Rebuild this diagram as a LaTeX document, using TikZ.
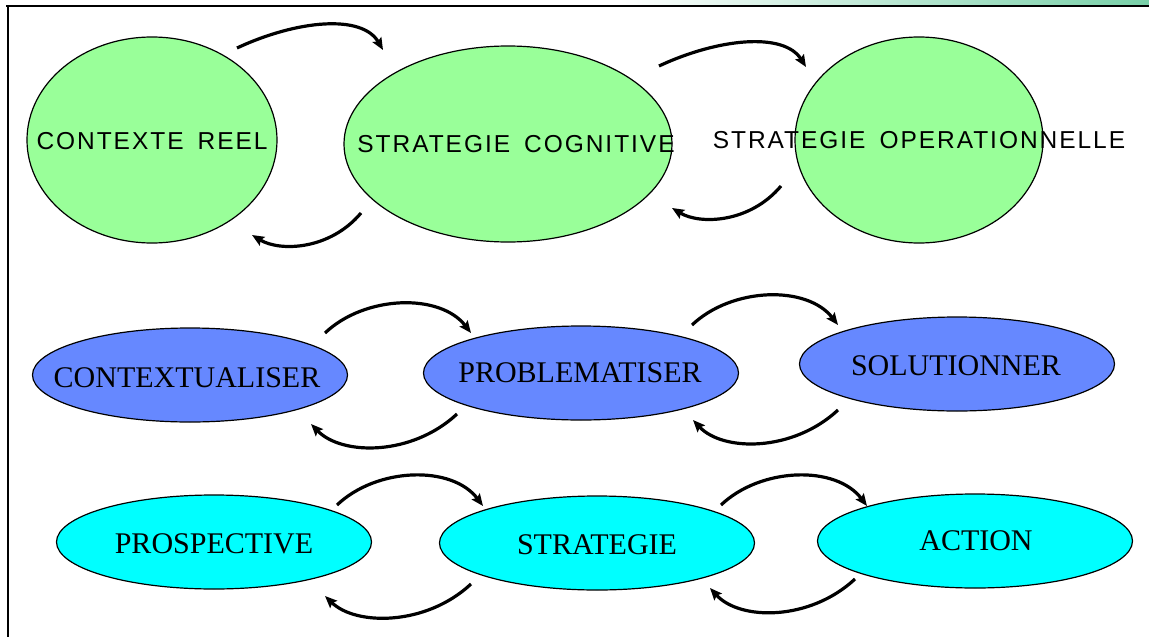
\documentclass[tikz,border=0pt]{standalone}
\usepackage{fontspec}
\setmainfont{Liberation Serif}
\newfontfamily\sansls[LetterSpace=8]{Liberation Sans}
\usetikzlibrary{shapes.geometric,arrows.meta,calc}
\definecolor{lgreen}{RGB}{153,255,153}
\definecolor{mblue}{RGB}{102,136,255}
\definecolor{mcyan}{RGB}{0,255,255}
\definecolor{barend}{RGB}{120,208,168}
\newcommand{\wgap}{\hspace{14pt}}
\tikzset{
  bubble/.style={ellipse, draw=black, line width=1.2pt, inner sep=0pt},
  gbub/.style={bubble, fill=lgreen},
  bbub/.style={bubble, fill=mblue, minimum width=315pt, minimum height=94pt},
  cbub/.style={bubble, fill=mcyan, minimum width=315pt, minimum height=94pt},
  stxt/.style={font=\sansls\fontsize{24.5}{28}\selectfont, inner sep=0pt},
  rtxt/.style={font=\fontsize{30}{34}\selectfont, inner sep=0pt},
  arr/.style={line width=3.2pt, -{Stealth[length=12pt,width=10pt,inset=2pt]}},
}
\begin{document}
\begin{tikzpicture}[x=1pt,y=-1pt]
\useasboundingbox (0,0) rectangle (1149,637);
% frame
\shade[left color=white, right color=barend] (620,0) rectangle (1149,5);
\draw[line width=2pt] (6,6) -- (1149,6);
\draw[line width=2pt] (7.5,5) -- (7.5,637);

% row 1
\node[gbub, minimum width=250pt, minimum height=206pt] (ctx) at (152,140) {};
\node[gbub, minimum width=328pt, minimum height=196pt] (scog) at (508,144) {};
\node[gbub, minimum width=248pt, minimum height=206pt] (sop) at (919,140) {};
\node[stxt] (ctxT) at (152,141) {CONTEXTE\wgap REEL};
\node[stxt] (scogT) at (516,144) {STRATEGIE\wgap COGNITIVE};
\node[stxt] (sopT) at (919,140) {STRATEGIE\wgap OPERATIONNELLE};

% row 2
\node[bbub] (cxl) at (190,375) {};
\node[bbub] (prb) at (581,373) {};
\node[bbub] (sol) at (957,364) {};
\node[rtxt] (cxlT) at (187,378) {CONTEXTUALISER};
\node[rtxt] (prbT) at (580,373) {PROBLEMATISER};
\node[rtxt] (solT) at (956,366) {SOLUTIONNER};

% row 3
\node[cbub] (pro) at (214,542) {};
\node[cbub] (str) at (597,543) {};
\node[cbub] (act) at (975,541) {};
\node[rtxt] (proT) at (214,544) {PROSPECTIVE};
\node[rtxt] (strT) at (597,545) {STRATEGIE};
\node[rtxt] (actT) at (976,541) {ACTION};

% arrow end points
\coordinate (a1s) at (237,48);  \coordinate (a1e) at (383,50);
\coordinate (a2s) at (659,66);  \coordinate (a2e) at (806,67);
\coordinate (b1s) at (361,213); \coordinate (b1e) at (252,235);
\coordinate (b2s) at (781,186); \coordinate (b2e) at (672,208);

\coordinate (c1s) at (325,333); \coordinate (c1e) at (471,333);
\coordinate (c2s) at (692,325); \coordinate (c2e) at (838,325);
\coordinate (d1s) at (457,414); \coordinate (d1e) at (311,424);
\coordinate (d2s) at (838,410); \coordinate (d2e) at (693,420);

\coordinate (e1s) at (337,505); \coordinate (e1e) at (483,506);
\coordinate (e2s) at (721,505); \coordinate (e2e) at (867,506);
\coordinate (f1s) at (471,584); \coordinate (f1e) at (325,596);
\coordinate (f2s) at (855,579); \coordinate (f2e) at (710,588);

% row 1 arrows
\draw[arr] (a1s) .. controls ($(a1s)+(60,-28)$) and ($(a1s)+(125,-34)$) .. (a1e);
\draw[arr] (a2s) .. controls ($(a2s)+(60,-28)$) and ($(a2s)+(125,-34)$) .. (a2e);
\draw[arr] (b1s) .. controls ($(b1s)+(-31,37)$) and ($(b1s)+(-81,39)$) .. (b1e);
\draw[arr] (b2s) .. controls ($(b2s)+(-31,37)$) and ($(b2s)+(-81,39)$) .. (b2e);

% row 2 arrows
\draw[arr] (c1s) .. controls ($(c1s)+(40,-38)$) and ($(c1s)+(115,-40)$) .. (c1e);
\draw[arr] (c2s) .. controls ($(c2s)+(40,-38)$) and ($(c2s)+(115,-40)$) .. (c2e);
\draw[arr] (d1s) .. controls ($(d1s)+(-45,42)$) and ($(d1s)+(-115,42)$) .. (d1e);
\draw[arr] (d2s) .. controls ($(d2s)+(-45,42)$) and ($(d2s)+(-115,42)$) .. (d2e);

% row 3 arrows
\draw[arr] (e1s) .. controls ($(e1s)+(40,-38)$) and ($(e1s)+(115,-40)$) .. (e1e);
\draw[arr] (e2s) .. controls ($(e2s)+(40,-38)$) and ($(e2s)+(115,-40)$) .. (e2e);
\draw[arr] (f1s) .. controls ($(f1s)+(-45,42)$) and ($(f1s)+(-115,42)$) .. (f1e);
\draw[arr] (f2s) .. controls ($(f2s)+(-45,42)$) and ($(f2s)+(-115,42)$) .. (f2e);
\end{tikzpicture}
\end{document}
